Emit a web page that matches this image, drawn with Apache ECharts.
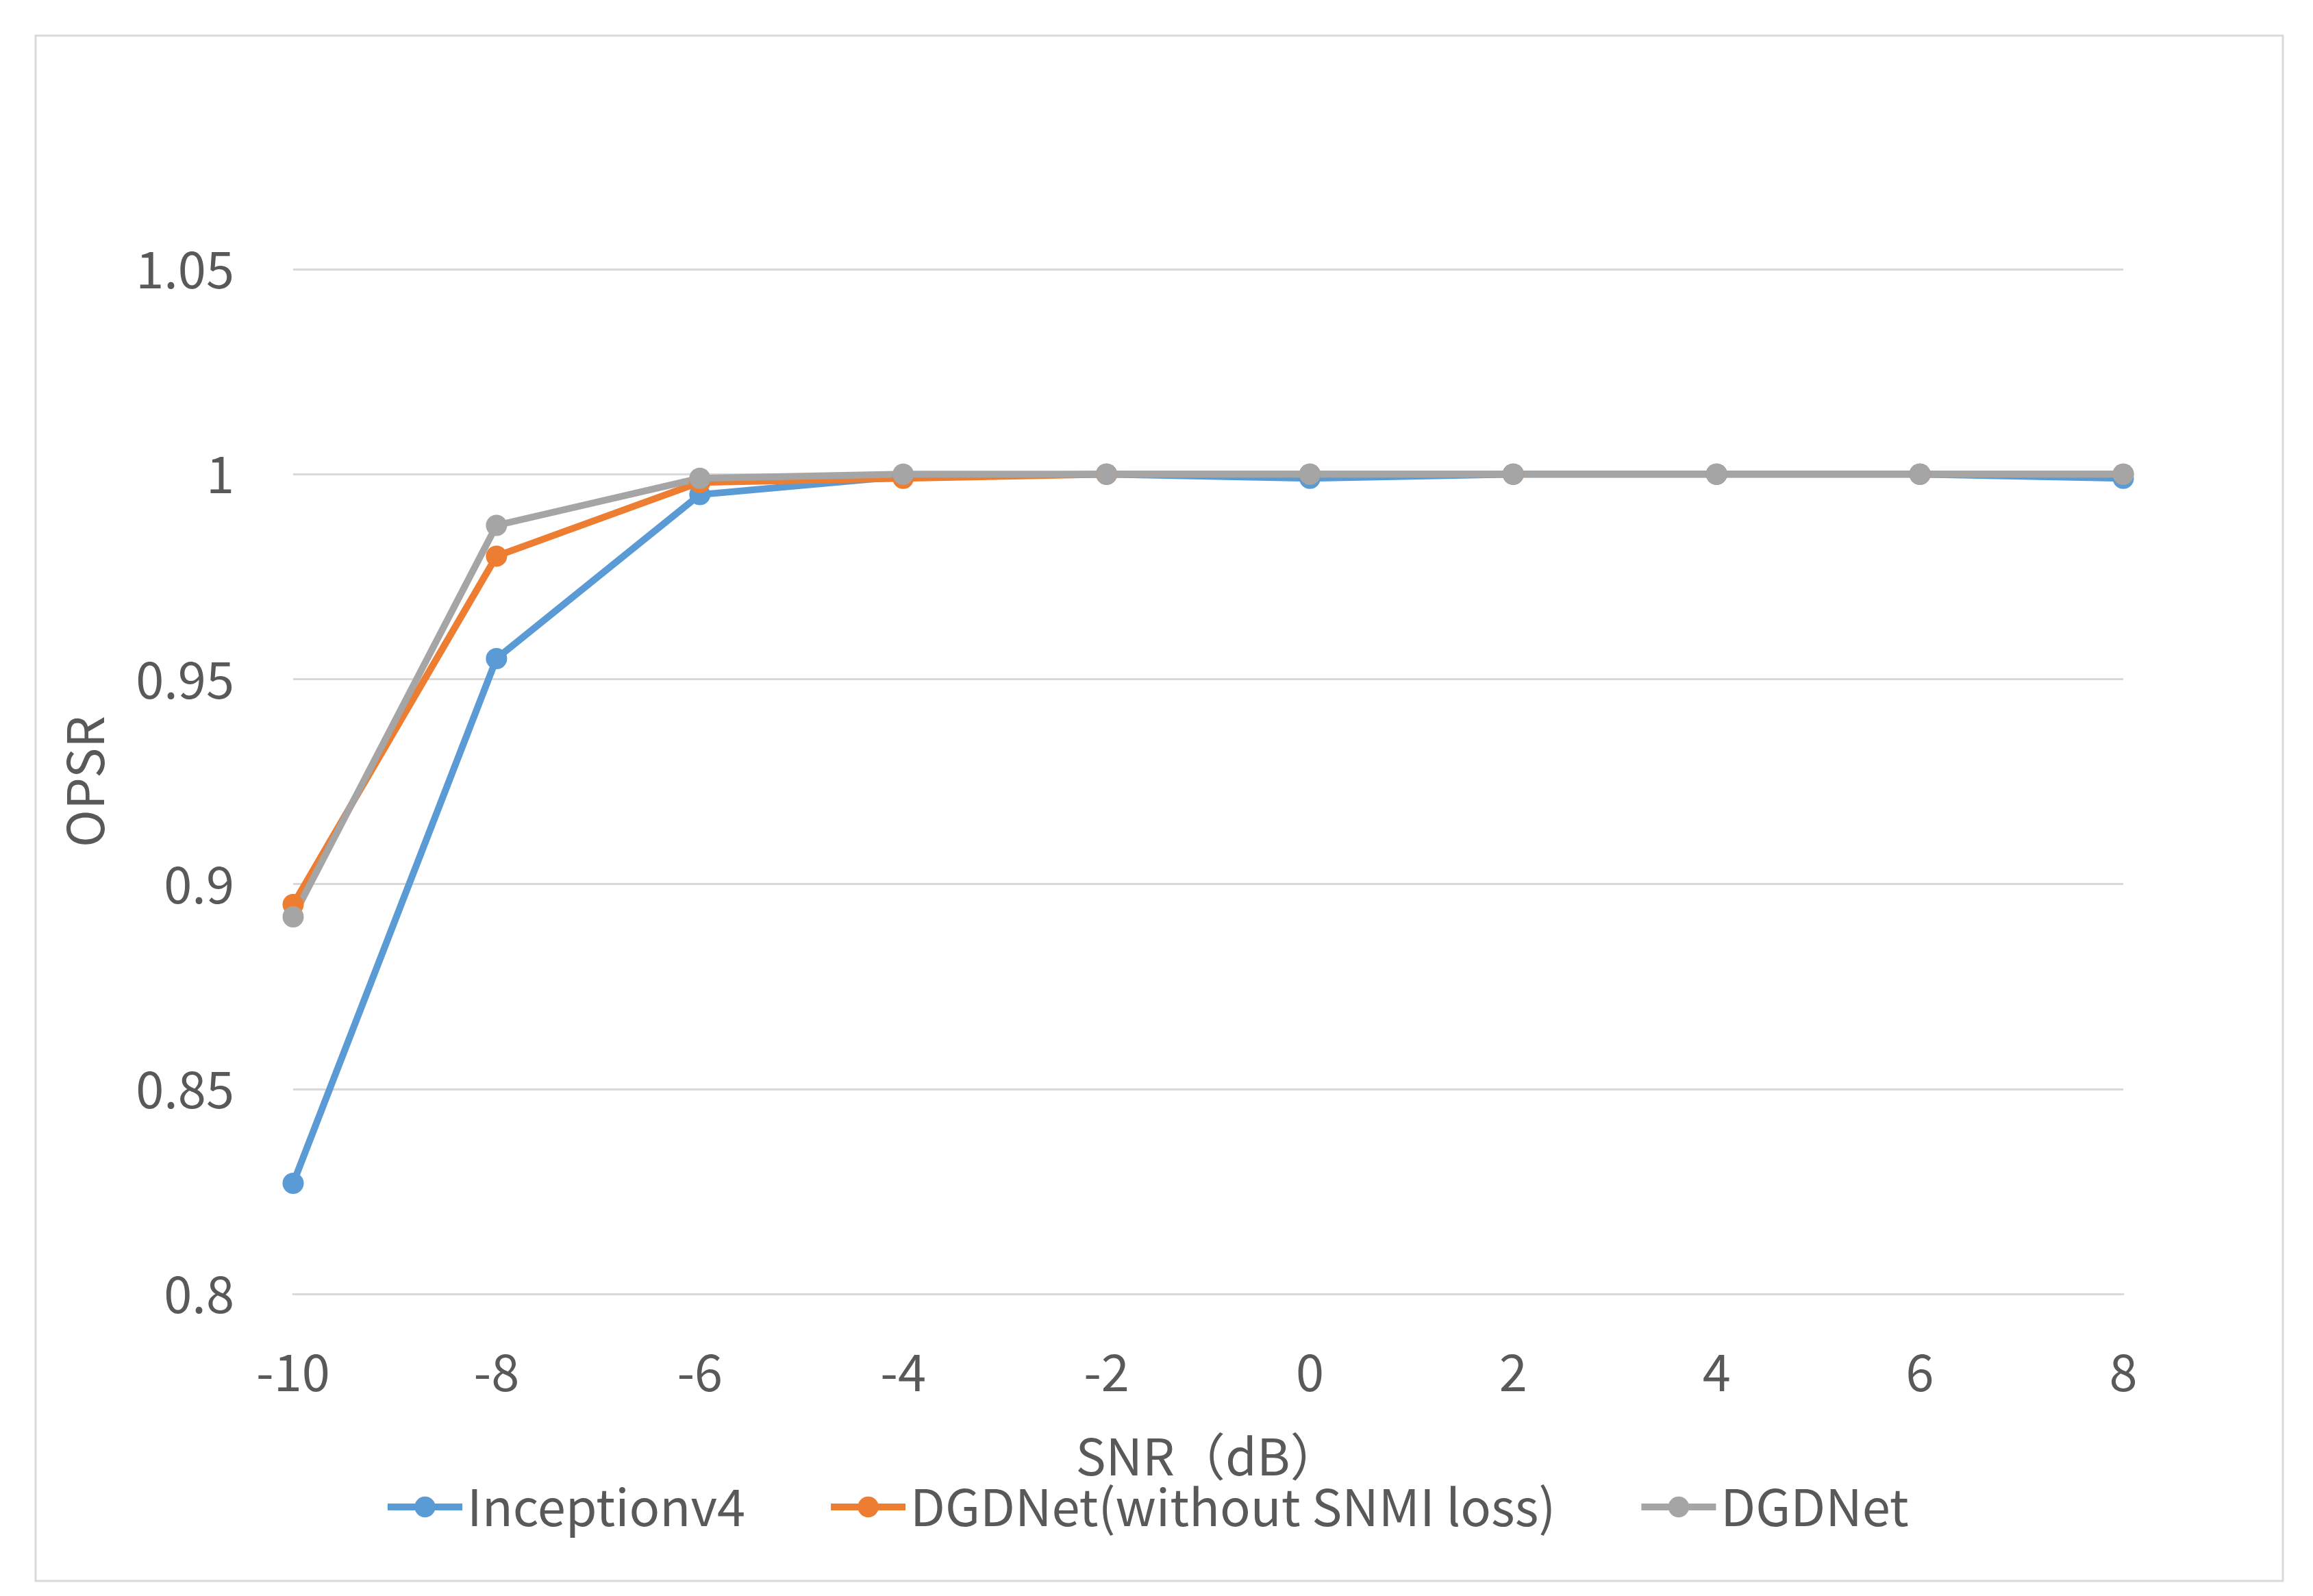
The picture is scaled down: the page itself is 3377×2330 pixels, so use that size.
<!DOCTYPE html>
<html>
<head>
<meta charset="utf-8">
<script src="https://cdn.jsdelivr.net/npm/echarts@6/dist/echarts.min.js"></script>
<style>html,body{margin:0;padding:0;background:#fff}#c{width:3377px;height:2330px}</style>
</head>
<body>
<div id="c"></div>
<script>
const categories = ['-10', '-8', '-6', '-4', '-2', '0', '2', '4', '6', '8'];
const inceptionv4 = [0.827, 0.955, 0.995, 0.9995, 1.0, 0.999, 1.0, 1.0, 1.0, 0.999];
const dgdnetNoSnmi = [0.895, 0.980, 0.998, 0.999, 1.0, 1.0, 1.0, 1.0, 1.0, 1.0];
const dgdnet = [0.892, 0.9875, 0.999, 1.0, 1.0, 1.0, 1.0, 1.0, 1.0, 1.0];
const seriesNames = ['Inceptionv4', 'DGDNet(without SNMI loss)', 'DGDNet'];
const colors = ['#5b9bd5', '#ed7d31', '#a5a5a5'];

const FONT = "'Noto Sans CJK SC', 'Open Sans', sans-serif";
const TXT = '#595959';
const chart = echarts.init(document.getElementById('c'), null, {renderer: 'canvas'});
function mk(name, data, color) {
  return {
    name: name, type: 'line', data: data,
    symbol: 'circle', symbolSize: 31,
    lineStyle: {color: color, width: 10},
    itemStyle: {color: color},
    emphasis: {disabled: true},
    animation: false
  };
}
chart.setOption({
  animation: false,
  textStyle: {fontFamily: FONT},
  graphic: [{
    type: 'rect', shape: {x: 52, y: 52, width: 3281, height: 2256},
    style: {fill: 'none', stroke: '#d9d9d9', lineWidth: 3}, silent: true, z: -1
  }],
  grid: {left: 428, right: 277, top: 393, bottom: 441, containLabel: false},
  xAxis: {
    type: 'category', data: categories, boundaryGap: false,
    axisLine: {show: true, lineStyle: {color: '#d9d9d9', width: 3}},
    axisTick: {show: false},
    axisLabel: {color: TXT, fontSize: 74, fontFamily: FONT, margin: 77},
    splitLine: {show: false},
    name: 'SNR（dB）', nameLocation: 'middle', nameGap: 200,
    nameTextStyle: {color: TXT, fontSize: 74, fontFamily: FONT}
  },
  yAxis: {
    type: 'value', min: 0.8, max: 1.05, interval: 0.05,
    axisLine: {show: false}, axisTick: {show: false},
    axisLabel: {color: TXT, fontSize: 74, fontFamily: FONT, margin: 86},
    splitLine: {show: true, lineStyle: {color: '#d9d9d9', width: 3}},
    name: 'OPSR', nameLocation: 'middle', nameGap: 267,
    nameTextStyle: {color: TXT, fontSize: 74, fontFamily: FONT}
  },
  legend: {
    data: seriesNames, left: 556, top: 2158,
    itemWidth: 109, itemHeight: 38, itemGap: 120,
    lineStyle: {width: 10},
    textStyle: {color: TXT, fontSize: 74, fontFamily: FONT, padding: [0, 0, 0, 2]}
  },
  color: colors,
  series: [
    mk(seriesNames[0], inceptionv4, colors[0]),
    mk(seriesNames[1], dgdnetNoSnmi, colors[1]),
    mk(seriesNames[2], dgdnet, colors[2])
  ]
});
</script>
</body>
</html>
